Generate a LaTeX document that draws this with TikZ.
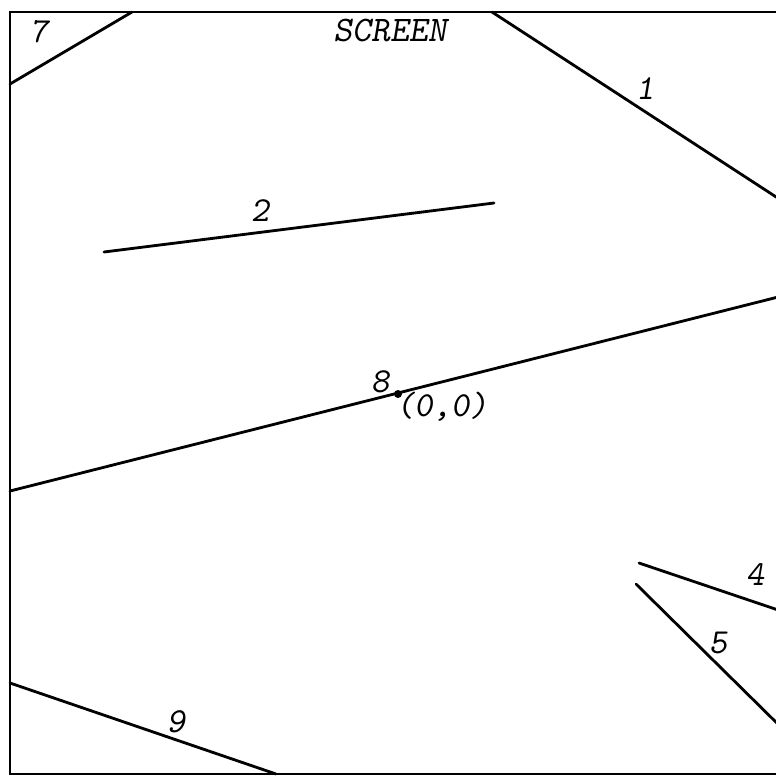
\documentclass[tikz,border=0pt]{standalone}
\usepackage{tikz}
\usetikzlibrary{positioning}
\tikzset{
  frame/.style={line width=1.5pt,black},
  seg/.style={line width=1.6pt,black,line cap=round},
  lbl/.style={font=\fontsize{20}{22}\ttfamily\slshape,inner sep=0pt},
  ttl/.style={font=\fontsize{20.5}{22}\ttfamily\slshape,inner sep=0pt},
}

\begin{document}
\begin{tikzpicture}[x=0.02cm,y=-0.02cm]
\useasboundingbox (0,0) rectangle (776,779);
% screen edges (right side runs off the picture)
\coordinate (tl) at (10,12);
\coordinate (tr) at (790,12);
\coordinate (bl) at (10,774);
\coordinate (br) at (790,774);
\draw[frame] (tr) -- (tl) -- (bl) -- (br);
\node[ttl] (title) at (390,30) {SCREEN};
% segments
\coordinate (a7) at (10,84);   \coordinate (b7) at (132,12);
\coordinate (a1) at (492,12);  \coordinate (b1) at (790,206);
\coordinate (a2) at (104,252); \coordinate (b2) at (494,203);
\coordinate (a8) at (10,491);  \coordinate (b8) at (790,294);
\coordinate (a4) at (639,563); \coordinate (b4) at (790,614);
\coordinate (a5) at (636,584); \coordinate (b5) at (790,736);
\coordinate (a9) at (10,683);  \coordinate (b9) at (276,774);
\draw[seg] (a7) -- (b7);
\draw[seg] (a1) -- (b1);
\draw[seg] (a2) -- (b2);
\draw[seg] (a8) -- (b8);
\draw[seg] (a4) -- (b4);
\draw[seg] (a5) -- (b5);
\draw[seg] (a9) -- (b9);
% origin
\fill (398,394) circle (4);
\node[lbl] (n7) at (39,32) {7};
\node[lbl] (n1) at (645,89) {1};
\node[lbl] (n2) at (260,211) {2};
\node[lbl] (n8) at (380,382) {8};
\node[lbl] (orig) at (442,407) {(0,0)};
\node[lbl] (n4) at (755,575) {4};
\node[lbl] (n5) at (718,643) {5};
\node[lbl] (n9) at (176,722) {9};
\end{tikzpicture}
\end{document}
